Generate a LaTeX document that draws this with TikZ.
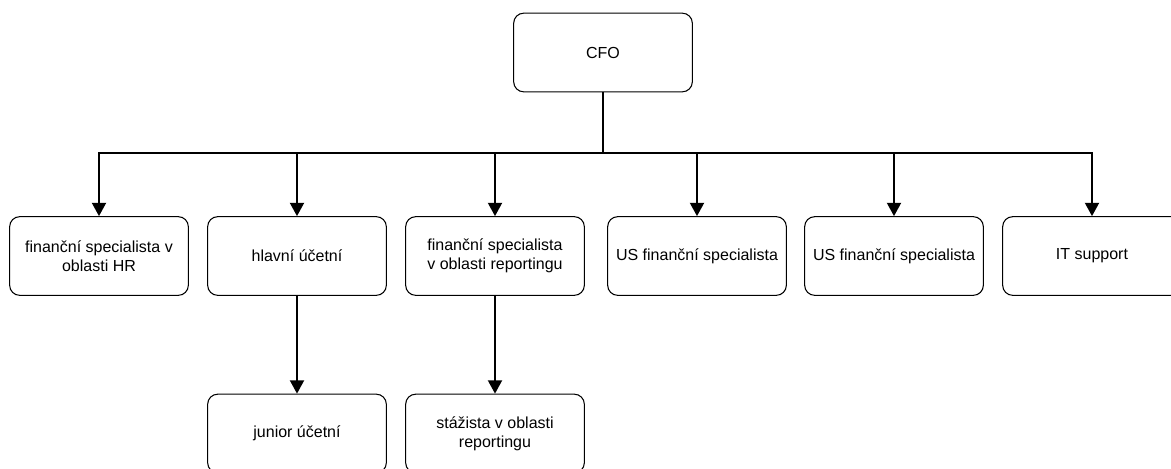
\documentclass[tikz,border=0pt]{standalone}
\usepackage{fontspec}
\setmainfont{Liberation Sans}
\usetikzlibrary{arrows.meta}

\begin{document}
\begin{tikzpicture}[x=0.75pt,y=-0.75pt]
		\tikzstyle{role} = [rectangle,rounded corners=7.5pt,draw=black,line width=0.8pt,minimum width=134pt,minimum height=59pt,align=center,font=\fontsize{12}{14.5}\selectfont]
		\tikzstyle{edge} = [line width=1.5pt,-{Triangle[length=10pt,width=10.5pt]}]
		\useasboundingbox (0,0) rectangle (1171,468);
		\node[role] (cfo) at (603,52.5) {CFO};
		\node[role] (n1) at (99,256) {finanční specialista v\\oblasti HR};
		\node[role] (n2) at (297,256) {hlavní účetní};
		\node[role] (n3) at (495,256) {finanční specialista\\v oblasti reportingu};
		\node[role] (n4) at (697,256) {US finanční specialista};
		\node[role] (n5) at (894,256) {US finanční specialista};
		\node[role] (n6) at (1092,256) {IT support};
		\node[role] (n7) at (297,433.5) {junior účetní};
		\node[role] (n8) at (495,433.5) {stážista v oblasti\\reportingu};
		\coordinate (bus) at (603,153);
		\draw[edge] (cfo.south) |- (bus) -| (n1.north);
		\draw[edge] (cfo.south) |- (bus) -| (n2.north);
		\draw[edge] (cfo.south) |- (bus) -| (n3.north);
		\draw[edge] (cfo.south) |- (bus) -| (n4.north);
		\draw[edge] (cfo.south) |- (bus) -| (n5.north);
		\draw[edge] (cfo.south) |- (bus) -| (n6.north);
		\draw[edge] (n2)--(n7);
		\draw[edge] (n3)--(n8);
		\end{tikzpicture}
\end{document}
